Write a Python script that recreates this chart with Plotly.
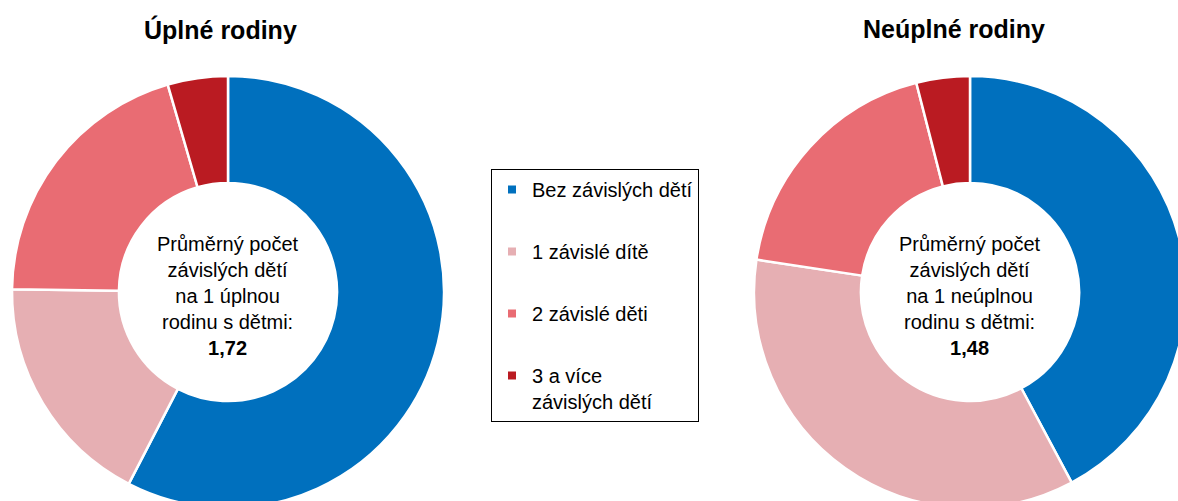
import plotly.graph_objects as go

categories = ["Bez závislých dětí", "1 závislé dítě", "2 závislé děti", "3 a více<br>závislých dětí"]
uplne = [57.6, 17.6, 20.3, 4.5]
neuplne = [42.2, 35.2, 18.6, 4.0]
colors = ["#0070BE", "#E6AFB3", "#E96C73", "#BA1B22"]
titles = ["Úplné rodiny", "Neúplné rodiny"]
center_texts = [
    "Průměrný počet<br>závislých dětí<br>na 1 úplnou<br>rodinu s dětmi:<br><b>1,72</b>",
    "Průměrný počet<br>závislých dětí<br>na 1 neúplnou<br>rodinu s dětmi:<br><b>1,48</b>",
]

W, H = 1190, 510
FONT = "Liberation Sans, Arial, sans-serif"

def px_x(p):
    return p / W

def px_y(p):
    return 1 - p / H

R = 216
centers = [(228, 292), (970, 292)]

fig = go.Figure()
for vals, (cx, cy) in zip([uplne, neuplne], centers):
    fig.add_trace(go.Pie(
        labels=categories, values=vals, sort=False, direction="clockwise", rotation=0,
        hole=0.505, textinfo="none", showlegend=False,
        marker=dict(colors=colors, line=dict(color="white", width=2.5)),
        domain=dict(x=[px_x(cx - R), px_x(cx + R)], y=[px_y(cy + R), px_y(cy - R)]),
    ))

for i, (cat, col) in enumerate(zip(categories, colors)):
    fig.add_trace(go.Scatter(
        x=[None], y=[None], mode="markers", name=cat, legendgroup=str(i),
        marker=dict(symbol="square", size=8, color=col), showlegend=True,
    ))

annotations = []
for t, tx in zip(titles, [220, 954]):
    annotations.append(dict(text=f"<b>{t}</b>", x=px_x(tx), y=px_y(29), xref="paper", yref="paper",
                            xanchor="center", yanchor="middle",
                            showarrow=False, font=dict(size=25, color="black", family=FONT)))
for ct, (cx, cy) in zip(center_texts, centers):
    annotations.append(dict(text=ct, x=px_x(cx), y=px_y(cy + 4), xref="paper", yref="paper",
                            xanchor="center", yanchor="middle",
                            showarrow=False, font=dict(size=20, color="black", family=FONT)))

fig.update_layout(
    width=W, height=H, margin=dict(l=0, r=0, t=0, b=0),
    paper_bgcolor="white", plot_bgcolor="white",
    font=dict(family=FONT, color="black"),
    xaxis=dict(visible=False), yaxis=dict(visible=False),
    annotations=annotations,
    legend=dict(x=px_x(491), y=px_y(169), xanchor="left", yanchor="top",
                bordercolor="black", borderwidth=1, bgcolor="white",
                font=dict(size=20, color="black", family=FONT),
                traceorder="grouped", tracegroupgap=33, valign="top"),
)

fig.write_html("out.html", config={"displayModeBar": False}, post_script=(
    "document.body.style.margin='0';"
    "document.body.style.overflow='hidden';"
    "document.documentElement.style.overflow='hidden';"
))
